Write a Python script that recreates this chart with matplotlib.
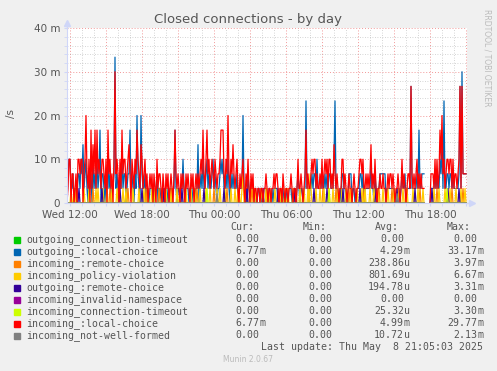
import numpy as np
import pandas as pd
import matplotlib
matplotlib.use("Agg")
import matplotlib.pyplot as plt
import matplotlib.dates as mdates
from matplotlib.ticker import FuncFormatter, MultipleLocator

# 每 5 分钟的连接关闭次数，每组 12 个 = 1 小时，'.' 为缺数据，'a' = 10
red_counts = ("013302201203 323302362130 514251523213 321305231203 923203152331 "
              "234203213253 214312312012 120210312210 210212012102 521210212102 "
              "121021201212 123252135231 232132122355 521326213242 123102123102 "
              "131021201101 101101121011 011212210110 210110112101 101311210125 "
              "121123233121 121312323133 121421210113 312101211012 101123323112 "
              "121241213101 121121101212 212101121013 121012218212 1231212111.. "
              "...022213131 253623123323 313122123818 2222")
blue_counts = ("023311201102 213241231021 203121312502 210213120112 a12102131220 "
               "122512102162 106211201101 110101201101 101101011011 510110113101 "
               "110110110114 012131123121 123121011232 311213102121 112011116101 "
               "021011101001 101001110010 010111100100 100100111001 001210110117 "
               "110112122131 111211212122 111371100102 211000222011 001112212011 "
               "111131102101 122222201111 111100111012 112011118111 1121511222.. "
               "...011112121 132417112212 212111112819 2222")

# 小的序列：只记录出现事件的位置
yellow_idx = [4, 7, 17, 22, 29, 31, 36, 40, 45, 50, 56, 59, 66, 72, 77, 81, 85, 88, 95, 99,
              104, 110, 113, 119, 124, 128, 133, 139, 143, 150, 153, 158, 164, 168, 172, 175,
              178, 183, 188, 194, 199, 203, 208, 213, 218, 221, 226, 233, 237, 241, 244, 249,
              253, 257, 262, 266, 271, 275, 279, 284, 290, 295, 298, 303, 307, 311, 316, 321,
              327, 331, 336, 340, 346, 351, 356, 367, 372, 378, 383, 389, 394, 398]
yellow_double = [176, 243]
orange_idx = [9, 26, 43, 61, 79, 92, 105, 118, 130, 147, 160, 171, 185, 200, 215, 229,
              242, 256, 269, 282, 297, 312, 325, 339, 353, 370, 385, 396]
indigo_idx = [12, 35, 53, 75, 97, 115, 137, 157, 180, 196, 211, 228, 247, 260, 276, 293,
              309, 330, 348, 365, 381, 392]
lime_idx = [140, 262, 380]
gray_idx = [150, 330]

names = ["outgoing_connection-timeout", "outgoing_:local-choice", "incoming_:remote-choice",
         "incoming_policy-violation", "outgoing_:remote-choice", "incoming_invalid-namespace",
         "incoming_connection-timeout", "incoming_:local-choice", "incoming_not-well-formed"]
colors = ["#00CC00", "#0066B3", "#FF8000", "#FFCC00", "#330099", "#990099",
          "#CCFF00", "#FF0000", "#808080"]
cur_vals = ["0.00", "6.77m", "0.00", "0.00", "0.00", "0.00", "0.00", "6.77m", "0.00"]
min_vals = ["0.00"] * 9
avg_vals = ["0.00", "4.29m", "238.86u", "801.69u", "194.78u", "0.00", "25.32u", "4.99m", "10.72u"]
max_vals = ["0.00", "33.17m", "3.97m", "6.67m", "3.31m", "0.00", "3.30m", "29.77m", "2.13m"]

n = 400


def parse(s):
    return np.array([np.nan if c == "." else int(c, 16) for c in s.replace(" ", "")], dtype=float)


def sparse(idx, val=1.0):
    arr = np.zeros(n)
    arr[idx] = val
    return arr


gap = np.isnan(parse(red_counts))
yellow = sparse(yellow_idx)
yellow[yellow_double] = 2
orange = sparse(orange_idx)
orange[185] = 1.19
series = [np.zeros(n), parse(blue_counts), orange, yellow, sparse(indigo_idx),
          np.zeros(n), sparse(lime_idx), parse(red_counts), sparse(gray_idx, 0.64)]

times = pd.date_range("2025-05-07 11:45", periods=n, freq="5min")

fig = plt.figure(figsize=(4.97, 3.71), dpi=100, facecolor="#F0F0F0")
ax = fig.add_axes([67 / 497, (371 - 203) / 371, 400 / 497, 175 / 371])
ax.set_facecolor("white")

for s, c in zip(series, colors):
    y = s / 300 * 1000  # 次/5分钟 -> 毫次/秒
    y[gap] = np.nan
    ax.plot(times, y, color=c, lw=0.9)

ax.set_xlim(times[0], times[0] + pd.Timedelta(minutes=5 * n))
ax.set_ylim(0, 40)

ax.xaxis.set_major_locator(mdates.HourLocator(byhour=range(0, 24, 3)))
ax.xaxis.set_minor_locator(mdates.HourLocator())
ax.xaxis.set_major_formatter(FuncFormatter(
    lambda v, p: mdates.num2date(v).strftime("%a %H:%M") if mdates.num2date(v).hour % 6 == 0 else ""))
ax.yaxis.set_major_locator(MultipleLocator(10))
ax.yaxis.set_minor_locator(MultipleLocator(2))
ax.yaxis.set_major_formatter(FuncFormatter(lambda v, p: "0" if v == 0 else "%d m" % v))

ax.grid(True, which="major", color="#E95353", alpha=0.6, lw=0.7, ls=(0, (1, 2)))
ax.grid(True, which="minor", color="#8F8F8F", alpha=0.5, lw=0.6, ls=(0, (1, 2)))
ax.tick_params(which="both", colors="#CFD6F8", labelcolor="#555555", labelsize=7.5, length=2, pad=3)

for sp in ["top", "right"]:
    ax.spines[sp].set_visible(False)
for sp in ["left", "bottom"]:
    ax.spines[sp].set_color("#CFD6F8")
ax.plot([0], [1.03], marker="^", ms=4, color="#CFD6F8", transform=ax.transAxes, clip_on=False)
ax.plot([1.013], [0], marker=">", ms=4, color="#CFD6F8", transform=ax.transAxes, clip_on=False)
ax.plot([0, 0], [1, 1.03], color="#CFD6F8", lw=1, transform=ax.transAxes, clip_on=False)
ax.plot([1, 1.013], [0, 0], color="#CFD6F8", lw=1, transform=ax.transAxes, clip_on=False)

W, H = 497, 371
fig.text(248 / W, 1 - 19 / H, "Closed connections - by day", ha="center", va="center",
         fontsize=9.5, color="#555555")
fig.text(11 / W, 1 - 113 / H, "/s", rotation=90, ha="center", va="center", fontsize=7.5, color="#555555")
fig.text(487 / W, 1 - 58 / H, "RRDTOOL / TOBI OETIKER", rotation=270, ha="center", va="center",
         fontsize=5.5, color="#BBBBBB")

# 图例表
mono = "DejaVu Sans Mono"
fs = 7.1
tc = "#555555"
for label, x in zip(["Cur:", "Min:", "Avg:", "Max:"], [230, 303, 375, 447]):
    fig.text(x / W, 1 - 227 / H, label, ha="left", va="center", family=mono, fontsize=fs, color=tc)


def put_value(v, edge, y):
    num, suf = (v[:-1], v[-1]) if v[-1] in "mu" else (v, "")
    fig.text(edge / W, 1 - y / H, num, ha="right", va="center", family=mono, fontsize=fs, color=tc)
    if suf:
        fig.text(edge / W, 1 - y / H, suf, ha="left", va="center", family=mono, fontsize=fs, color=tc)


for k in range(9):
    y = 239.5 + 12 * k
    fig.patches.append(plt.Rectangle((14 / W, 1 - (y + 3) / H), 6 / W, 6 / H,
                                     transform=fig.transFigure, color=colors[k]))
    fig.text(26 / W, 1 - y / H, names[k], ha="left", va="center", family=mono, fontsize=fs, color=tc)
    put_value(cur_vals[k], 259, y)
    put_value(min_vals[k], 332, y)
    put_value(avg_vals[k], 404, y)
    put_value(max_vals[k], 477, y)

fig.text(483 / W, 1 - 347.5 / H, "Last update: Thu May  8 21:05:03 2025", ha="right", va="center",
         family=mono, fontsize=fs, color=tc)
fig.text(248 / W, 1 - 360 / H, "Munin 2.0.67", ha="center", va="center", fontsize=5.5, color="#BBBBBB")

fig.savefig("out.png", dpi=100, facecolor=fig.get_facecolor())
